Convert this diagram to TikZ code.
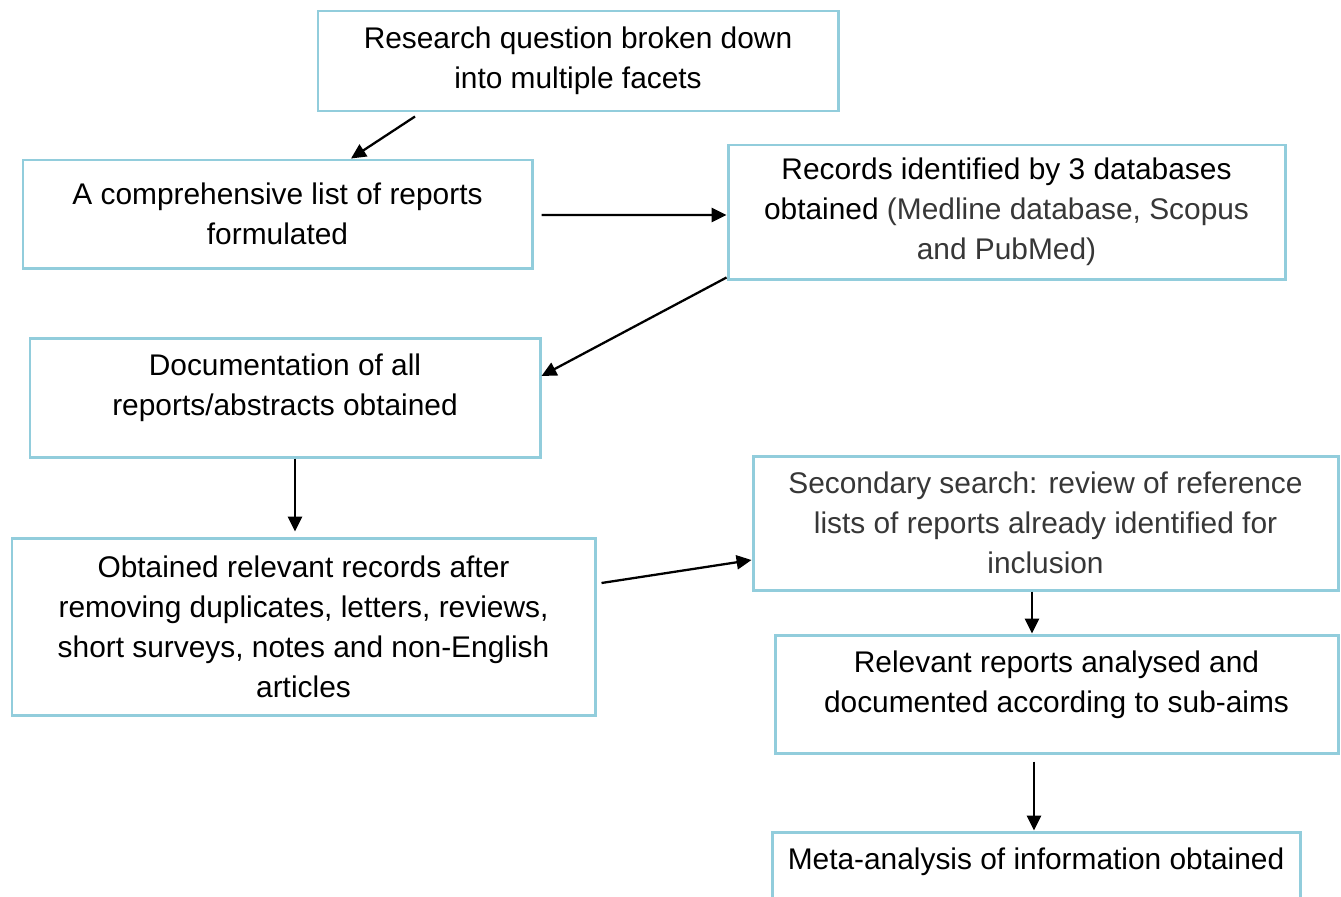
\documentclass[tikz,border=0pt]{standalone}
\usepackage{fontspec}
\setmainfont{Liberation Sans}
\usepackage{tikz}
\usetikzlibrary{
    arrows.meta,
    calc
}
\definecolor{boxblue}{RGB}{146,205,220}
\definecolor{textgrey}{RGB}{55,55,55}

\begin{document}
\begin{tikzpicture}[x=1cm,y=1cm,
    box/.style={draw=boxblue, line width=1.7pt, align=center,
        font=\fontsize{17pt}{22.8pt}\selectfont},
    lifted/.style={text depth=0.5cm},
    arr/.style={-{Triangle[length=8.5pt,width=8pt]}, line width=1.3pt}]

% Page size
\clip (0,0) rectangle (26.82,-17.92);

% Left column
\node[box, minimum width=10.4cm, minimum height=2cm] (research) at (11.56,-1.22)
    {Research question broken down\\into multiple facets};
\node[box, minimum width=10.18cm, minimum height=2.16cm] (list) at (5.55,-4.28)
    {A comprehensive list of reports\\formulated};
\node[box, minimum width=11.14cm, minimum height=2.68cm] (records) at (20.13,-4.24)
    {Records identified by 3 databases\\obtained \textcolor{textgrey}{(Medline database, Scopus}\\\textcolor{textgrey}{and PubMed)}};
\node[box, lifted, minimum width=10.2cm, minimum height=2.38cm] (docs) at (5.70,-7.95)
    {Documentation of all\\reports/abstracts obtained};
\node[box, minimum width=11.66cm, minimum height=3.54cm] (obtained) at (6.07,-12.53)
    {Obtained relevant records after\\removing duplicates, letters, reviews,\\short surveys, notes and non-English\\articles};

% Right column
\node[box, text=textgrey, minimum width=11.7cm, minimum height=2.68cm] (secondary) at (20.91,-10.46)
    {Secondary search: review of reference\\lists of reports already identified for\\inclusion};
\node[box, lifted, minimum width=11.26cm, minimum height=2.36cm] (relevant) at (21.13,-13.88)
    {Relevant reports analysed and\\documented according to sub-aims};
\node[box, lifted, minimum width=10.56cm, minimum height=1.56cm] (meta) at (20.72,-17.42)
    {Meta-analysis of information obtained};

% Arrows
\draw[arr] ([xshift=-3.26cm,yshift=-0.08cm]research.south) -- ([xshift=1.47cm]list.north);
\draw[arr] ([xshift=0.16cm,yshift=-0.02cm]list.east) -- ([yshift=-0.06cm]records.west);
\draw[arr] ([yshift=0.06cm]records.south west) -- ([yshift=0.43cm]docs.east);
\draw[arr, shorten >=0.1cm] ([xshift=0.2cm]docs.south) -- ([xshift=0.2cm]docs.south |- obtained.north);
\draw[arr] ([xshift=0.1cm,yshift=0.87cm]obtained.east) -- ([yshift=-0.74cm]secondary.west);
\draw[arr] ([xshift=-0.27cm]secondary.south) -- ([xshift=-0.27cm]secondary.south |- relevant.north);
\draw[arr] ([xshift=-0.45cm,yshift=-0.14cm]relevant.south) -- ([xshift=-0.45cm]relevant.south |- meta.north);

\end{tikzpicture}
\end{document}
